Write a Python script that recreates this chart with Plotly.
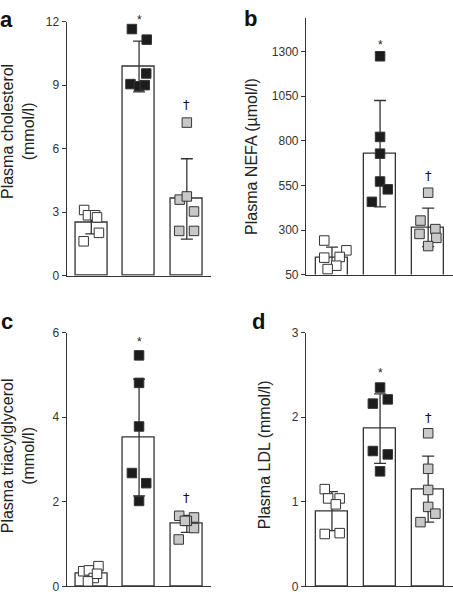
import plotly.graph_objects as go
from plotly.subplots import make_subplots

W, H = 453, 600
FONT = "Liberation Sans, Arial, sans-serif"
categories = ["Control", "Group 2", "Group 3"]

# ---- data ----
# panel a: cholesterol (mmol/l)
chol_mean = [2.5, 9.88, 3.62]
chol_sd = [0.53, 1.2, 1.9]
chol_white = [3.1, 2.85, 2.85, 2.75, 2.02, 1.62]
chol_black = [11.65, 11.15, 9.55, 9.05, 8.95, 9.0]
chol_gray = [7.23, 3.59, 3.74, 3.03, 2.11, 2.11]

# panel b: NEFA (umol/l)
nefa_mean = [145, 728, 315]
nefa_sd = [59, 298, 108]
nefa_white = [241, 186, 145, 149, 100, 81]
nefa_black = [1274, 822, 728, 572, 528, 458]
nefa_gray = [509, 353, 278, 305, 256, 210]

# panel c: triacylglycerol (mmol/l)
tag_mean = [0.31, 3.52, 1.48]
tag_sd = [0.12, 1.38, 0.2]
tag_white = [0.36, 0.38, 0.48, 0.2, 0.12, 0.3]
tag_black = [5.46, 4.81, 3.78, 2.68, 2.44, 2.02]
tag_gray = [1.67, 1.63, 1.38, 1.11, 1.55, 1.55]

# panel d: LDL (mmol/l)
ldl_mean = [0.89, 1.865, 1.15]
ldl_sd = [0.23, 0.41, 0.39]
ldl_white = [1.15, 1.04, 1.04, 0.97, 0.62, 0.63]
ldl_black = [2.35, 2.16, 2.21, 1.6, 1.56, 1.36]
ldl_gray = [1.81, 1.39, 1.14, 0.94, 0.86, 0.76]

# significance marks (value where the symbol sits)
star_y = [12.1, 1336, 5.77, 2.52]
dagger_y = [8.08, 605, 2.11, 2.0]

# horizontal jitter of the dots (category units)
jit_a = [[-0.15, -0.07, 0.08, 0.12, 0.16, -0.16],
         [-0.15, 0.16, 0.15, -0.18, 0.0, 0.12],
         [0.0, -0.15, 0.0, 0.15, -0.16, 0.15]]
jit_b = [[-0.16, 0.3, -0.16, 0.16, 0.09, -0.09],
         [0.0, 0.0, 0.0, 0.0, 0.16, -0.17],
         [0.0, -0.16, -0.18, 0.15, 0.17, 0.0]]
jit_c = [[-0.17, -0.05, 0.15, 0.05, -0.07, 0.12],
         [0.0, 0.0, 0.0, -0.15, 0.15, 0.0],
         [-0.16, 0.15, 0.15, -0.17, 0.0, -0.04]]
jit_d = [[-0.15, -0.08, 0.16, 0.08, -0.15, 0.16],
         [0.0, -0.15, 0.16, -0.15, 0.16, 0.0],
         [0.0, 0.0, 0.0, 0.0, 0.15, -0.16]]

panels = [
    dict(mean=chol_mean, sd=chol_sd, pts=[chol_white, chol_black, chol_gray], jit=jit_a,
         yrange=[0, 12], tick0=0, dtick=3),
    dict(mean=nefa_mean, sd=nefa_sd, pts=[nefa_white, nefa_black, nefa_gray], jit=jit_b,
         yrange=[50, 1490], tick0=50, dtick=250),
    dict(mean=tag_mean, sd=tag_sd, pts=[tag_white, tag_black, tag_gray], jit=jit_c,
         yrange=[0, 6], tick0=0, dtick=2),
    dict(mean=ldl_mean, sd=ldl_sd, pts=[ldl_white, ldl_black, ldl_gray], jit=jit_d,
         yrange=[0, 3], tick0=0, dtick=1),
]

# pixel layout of each plot area: (left, right, top, bottom)
boxes = [(66.7, 211, 15, 275), (306, 452.5, 11, 274),
         (66.7, 211, 333.3, 593.3), (306, 452.5, 333.3, 593.3)]
xranges = [[-0.515, 2.506], [-0.54, 2.506], [-0.515, 2.506], [-0.54, 2.506]]

fills = ["white", "#1c1c1c", "#c8c8c8"]
EDGE = "#333333"

fig = make_subplots(rows=2, cols=2)
rc = [(1, 1), (1, 2), (2, 1), (2, 2)]

for i, p in enumerate(panels):
    r, c = rc[i]
    fig.add_trace(go.Bar(
        x=[0, 1, 2], y=p["mean"], width=0.67,
        marker=dict(color="white", line=dict(color=EDGE, width=1.3)),
        error_y=dict(type="data", array=p["sd"], visible=True,
                     color=EDGE, thickness=1.3, width=6),
        showlegend=False), row=r, col=c)
    for g in range(3):
        xs = [g + d for d in p["jit"][g]]
        fig.add_trace(go.Scatter(
            x=xs, y=p["pts"][g], mode="markers",
            marker=dict(symbol="square", size=9.5, color=fills[g],
                        line=dict(color=EDGE, width=1)),
            cliponaxis=False, showlegend=False), row=r, col=c)

for i, p in enumerate(panels):
    l, rr, t, b = boxes[i]
    xa = "xaxis" if i == 0 else f"xaxis{i+1}"
    ya = "yaxis" if i == 0 else f"yaxis{i+1}"
    fig.layout[xa].update(domain=[l / W, rr / W], range=xranges[i],
                          showticklabels=False, ticks="", showgrid=False,
                          zeroline=False, showline=True, linecolor=EDGE,
                          linewidth=1.2)
    fig.layout[ya].update(domain=[1 - b / H, 1 - t / H], range=p["yrange"],
                          tickmode="linear", tick0=p["tick0"], dtick=p["dtick"],
                          ticks="outside", ticklen=4, tickcolor=EDGE, tickwidth=1.2,
                          showgrid=False, zeroline=False, showline=True,
                          linecolor=EDGE, linewidth=1.2,
                          tickfont=dict(size=12, color="#333", family=FONT))
    xref = "x" if i == 0 else f"x{i+1}"
    ydom = ("y" if i == 0 else f"y{i+1}") + " domain"
    y0, y1 = p["yrange"]
    fig.add_annotation(x=1, y=(star_y[i] - y0) / (y1 - y0), xref=xref, yref=ydom,
                       text="*", showarrow=False,
                       font=dict(size=12, color="#222", family=FONT),
                       yanchor="middle")
    fig.add_annotation(x=2, y=(dagger_y[i] - y0) / (y1 - y0), xref=xref, yref=ydom,
                       text="†", showarrow=False,
                       font=dict(size=13, color="#111", family="DejaVu Sans"),
                       yanchor="middle")

# axis titles
titles = [("Plasma cholesterol<br>(mmol/l)", 18, 128),
          ("Plasma NEFA (µmol/l)", 252, 152.5),
          ("Plasma triacylglycerol<br>(mmol/l)", 18, 460),
          ("Plasma LDL (mmol/l)", 264, 459)]
for txt, px, py in titles:
    fig.add_annotation(x=px / W, y=1 - py / H, xref="paper", yref="paper",
                       text=txt, textangle=-90, showarrow=False,
                       xanchor="center", yanchor="middle",
                       font=dict(size=16, color="#222", family=FONT))

# panel letters
letters = [("a", 6.5, 13), ("b", 250, 12), ("c", 6.5, 322), ("d", 258, 322)]
for txt, px, py in letters:
    fig.add_annotation(x=px / W, y=1 - py / H, xref="paper", yref="paper",
                       text=f"<b>{txt}</b>", showarrow=False,
                       xanchor="center", yanchor="middle",
                       font=dict(size=22, color="#111", family=FONT))

fig.update_layout(width=W, height=H, margin=dict(l=0, r=0, t=0, b=0),
                  paper_bgcolor="white", plot_bgcolor="white",
                  font=dict(family=FONT), bargap=0)

fig.write_html("out.html", config={"displayModeBar": False},
               post_script="document.body.style.margin='0';"
                           "document.body.style.overflow='hidden';")
